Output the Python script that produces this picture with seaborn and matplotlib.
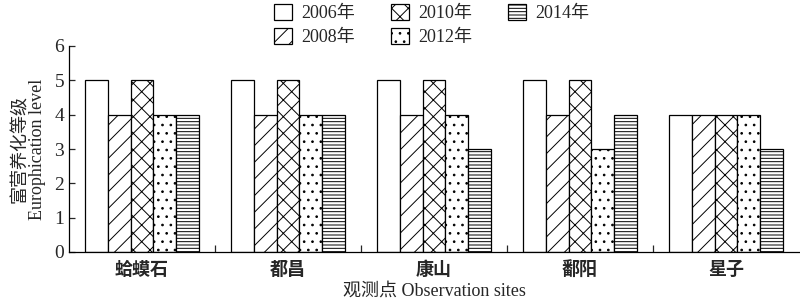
import matplotlib
matplotlib.use("Agg")
import matplotlib.pyplot as plt
import seaborn as sns
import pandas as pd

sites = ["蛤蟆石", "都昌", "康山", "鄱阳", "星子"]
years = ["2006年", "2008年", "2010年", "2012年", "2014年"]
v2006 = [5, 5, 5, 5, 4]
v2008 = [4, 4, 4, 4, 4]
v2010 = [5, 5, 5, 5, 4]
v2012 = [4, 4, 4, 3, 4]
v2014 = [4, 4, 3, 4, 3]
series = [v2006, v2008, v2010, v2012, v2014]
hatches = ["", "//", "xx", "..", "-----"]

rows = []
for yr, vals in zip(years, series):
    for s, v in zip(sites, vals):
        rows.append({"site": s, "year": yr, "level": v})
df = pd.DataFrame(rows)

sns.set_style("ticks")
plt.rcParams["font.family"] = ["Liberation Serif", "Noto Sans CJK SC"]
plt.rcParams["hatch.linewidth"] = 0.7
plt.rcParams["hatch.color"] = "black"

fig = plt.figure(figsize=(8, 3.01), dpi=100)
ax = fig.add_axes([69 / 800, (301 - 252) / 301, (799 - 69) / 800, (252 - 46) / 301])

sns.barplot(data=df, x="site", y="level", hue="year", order=sites, hue_order=years,
            palette=["white"] * 5, edgecolor="black", linewidth=0.9,
            width=0.775, legend=False, ax=ax, saturation=1)

for cont, h in zip(ax.containers, hatches):
    for p in cont:
        p.set_hatch(h)
        p.set_edgecolor("black")
        p.set_facecolor("white")

ax.set_ylim(0, 6)
ax.set_xlim(-0.5, 4.5)
ax.set_yticks(range(0, 7))
ax.tick_params(axis="y", direction="in", length=4, labelsize=14, width=0.9)
ax.tick_params(axis="x", which="major", length=0, labelsize=13, pad=7)
for lab in ax.get_xticklabels():
    lab.set_fontweight("bold")
ax.set_xticks([0.5, 1.5, 2.5, 3.5], minor=True)
ax.tick_params(axis="x", which="minor", direction="in", length=5, width=0.9)
sns.despine(ax=ax)
for sp in ["left", "bottom"]:
    ax.spines[sp].set_linewidth(0.9)
    ax.spines[sp].set_color("black")

ax.set_xlabel("观测点 Observation sites", fontsize=13, labelpad=2)
ax.set_ylabel("富营养化等级\nEurophication level", fontsize=13, labelpad=6, linespacing=1.0)

fig.legend(ax.containers, years, ncol=3, frameon=False, fontsize=13,
           loc="upper left", bbox_to_anchor=(258 / 800, 1.04),
           handlelength=1.0, handleheight=1.0, columnspacing=2.0,
           labelspacing=0.3, handletextpad=0.5)

fig.savefig("out.png", dpi=100)
